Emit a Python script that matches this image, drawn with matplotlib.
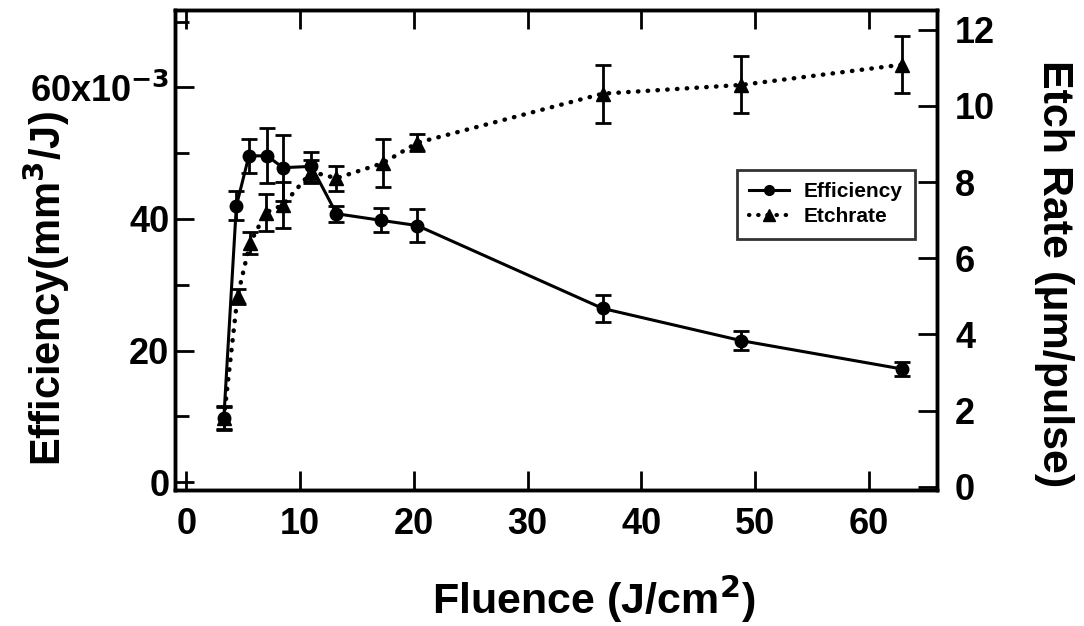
import numpy as np
import matplotlib
matplotlib.use("Agg")
import matplotlib.pyplot as plt
from matplotlib.lines import Line2D
from matplotlib.ticker import FixedLocator, FuncFormatter

plt.rcParams['font.family'] = ['Liberation Sans', 'DejaVu Sans']
plt.rcParams['font.weight'] = 'bold'

# fluence (J/cm^2)
fluence = [3.3, 4.4, 5.5, 7.1, 8.5, 11.0, 13.2, 17.1, 20.3, 36.6, 48.8, 62.9]
# efficiency (x1e-3 mm^3/J)
efficiency = [9.8, 42.0, 49.6, 49.6, 47.8, 48.0, 40.8, 39.8, 39.0, 26.4, 21.5, 17.2]
efficiency_err = [1.7, 2.2, 2.6, 4.2, 5.0, 2.2, 1.2, 1.8, 2.5, 2.0, 1.4, 1.1]
# etch rate (um/pulse)
etch_fluence = [3.3, 4.5, 5.6, 7.0, 8.5, 11.0, 13.2, 17.3, 20.3, 36.6, 48.8, 62.9]
etchrate = [1.8, 5.0, 6.4, 7.2, 7.4, 8.27, 8.1, 8.5, 9.03, 10.32, 10.55, 11.08]
etchrate_err = [0.3, 0.2, 0.28, 0.48, 0.6, 0.3, 0.33, 0.63, 0.22, 0.76, 0.75, 0.75]

fig = plt.figure(figsize=(10.84, 6.26), dpi=100)
ax = fig.add_axes([0.1614, 0.2173, 0.703, 0.767])
ax2 = ax.twinx()

dotted = (0, (0.1, 2.1))
ax.errorbar(fluence, efficiency, yerr=efficiency_err, color='black', lw=2.2,
            marker='o', ms=9, capsize=6, capthick=2, elinewidth=2)
ax2.errorbar(etch_fluence, etchrate, yerr=etchrate_err, color='black', lw=3.2,
             ls=dotted, dash_capstyle='round', marker='^', ms=10,
             capsize=6, capthick=2, elinewidth=2)

ax.set_xlim(-1, 66)
ax.set_ylim(-1.2, 71.8)
ax2.set_ylim(-0.08, 12.52)

ax.xaxis.set_major_locator(FixedLocator([0, 10, 20, 30, 40, 50, 60]))
ax.yaxis.set_major_locator(FixedLocator([0, 20, 40, 60]))
ax.yaxis.set_minor_locator(FixedLocator([10, 30, 50, 70]))
ax.yaxis.set_major_formatter(FuncFormatter(
    lambda v, p: r'60x10$^{\mathbf{-3}}$' if v == 60 else f'{v:.0f}'))
ax2.yaxis.set_major_locator(FixedLocator([0, 2, 4, 6, 8, 10, 12]))

ax.tick_params(axis='x', which='major', direction='in', top=True, length=14,
               width=2, labelsize=26, pad=12)
ax.tick_params(axis='y', which='major', direction='in', length=14, width=2,
               labelsize=26, pad=4)
ax.tick_params(axis='y', which='minor', direction='in', length=10, width=2)
ax2.tick_params(axis='y', direction='in', length=14, width=2, labelsize=26, pad=13)

for a in (ax, ax2):
    for s in a.spines.values():
        s.set_linewidth(2.5)

ax.set_xlabel('Fluence (J/cm$^{\\mathbf{2}}$)', fontsize=31, fontweight='bold')
ax.xaxis.set_label_coords(0.55, -0.175)
ax.set_ylabel('Efficiency(mm$^{\\mathbf{3}}$/J)', fontsize=30, fontweight='bold')
ax.yaxis.set_label_coords(-0.135, 0.42)
ax2.set_ylabel('Etch Rate (\u03bcm/pulse)', fontsize=31, fontweight='bold',
               rotation=-90)
ax2.yaxis.set_label_coords(1.18, 0.45)

handles = [Line2D([], [], color='black', lw=2.2, marker='o', ms=7),
           Line2D([], [], color='black', lw=3, ls=dotted,
                  dash_capstyle='round', marker='^', ms=8)]
leg = ax2.legend(handles, ['Efficiency', 'Etchrate'], loc='upper left',
                 bbox_to_anchor=(0.7375, 0.667), frameon=True, fancybox=False,
                 edgecolor='black', fontsize=15, handlelength=1.9,
                 borderpad=0.6, labelspacing=0.3, handletextpad=0.7,
                 borderaxespad=0)
leg.get_frame().set_linewidth(2)

fig.savefig('out.png', dpi=100)
